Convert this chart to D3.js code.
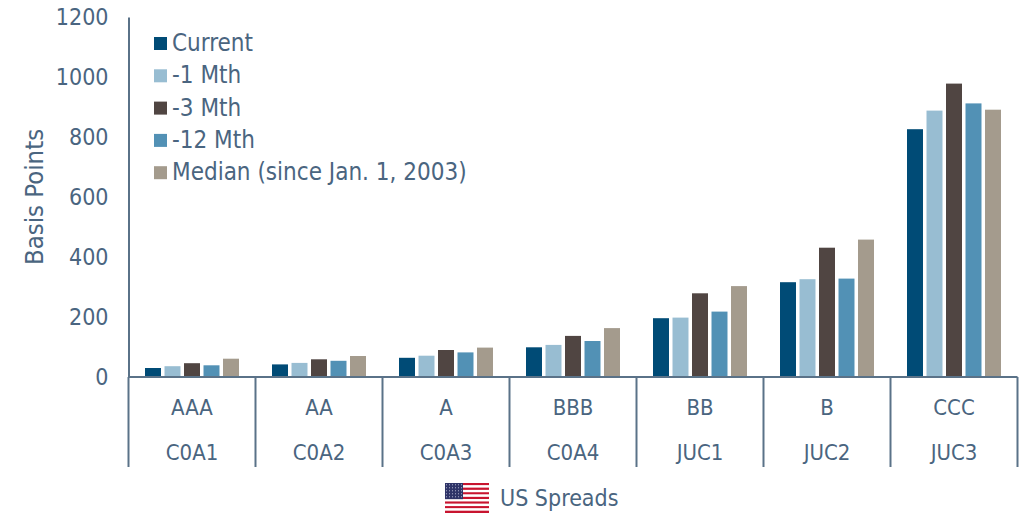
<!DOCTYPE html>
<html>
<head>
<meta charset="utf-8">
<script src="https://cdn.jsdelivr.net/npm/d3@7"></script>
<style>
body { margin: 0; background: #fff; }
text { font-family: "DejaVu Sans", sans-serif; font-stretch: condensed; fill: #4a6580; }
</style>
</head>
<body>
<svg id="chart" width="1020" height="514"></svg>
<script>
const ratings = ["AAA", "AA", "A", "BBB", "BB", "B", "CCC"];
const indexCodes = ["C0A1", "C0A2", "C0A3", "C0A4", "JUC1", "JUC2", "JUC3"];
const seriesNames = ["Current", "-1 Mth", "-3 Mth", "-12 Mth", "Median (since Jan. 1, 2003)"];
const current = [30, 42, 64, 99, 196, 316, 826];
const oneMonth = [36, 47, 71, 107, 198, 326, 888];
const threeMonth = [46, 59, 90, 137, 279, 431, 978];
const twelveMonth = [39, 54, 82, 120, 218, 328, 912];
const median = [61, 70, 98, 163, 303, 458, 891];
const yTicks = [0, 200, 400, 600, 800, 1000, 1200];
const colors = ["#004b76", "#98bdd2", "#504542", "#5291b5", "#a49b8d"];

const allSeries = [current, oneMonth, threeMonth, twelveMonth, median];
const axisColor = "#5a7288";

const svg = d3.select("#chart");

const left = 128.5, right = 1017.5, top0 = 17, bottom = 377;

const x0 = d3.scaleBand().domain(ratings).range([left, right]);
const x1 = d3.scaleBand().domain(seriesNames)
    .range([16.5, 110.5]).paddingInner(0.18).paddingOuter(0);
const y = d3.scaleLinear().domain([0, 1200]).range([bottom, top0]);

// bars
seriesNames.forEach(function(name, s) {
    svg.append("g").selectAll("rect")
        .data(allSeries[s])
        .join("rect")
        .attr("x", (d, i) => x0(ratings[i]) + x1(name))
        .attr("y", d => y(d))
        .attr("width", x1.bandwidth())
        .attr("height", d => bottom - y(d))
        .attr("fill", colors[s]);
});

// y axis
const yAxis = svg.append("g")
    .attr("transform", "translate(" + left + ",0)")
    .call(d3.axisLeft(y).tickValues(yTicks).tickSize(0).tickPadding(20).tickFormat(d3.format("d")));
yAxis.select(".domain").attr("stroke", axisColor).attr("stroke-width", 2);
yAxis.selectAll("text").style("font-size", "23px").attr("fill", "#4a6580");

svg.append("text")
    .attr("transform", "translate(43,197) rotate(-90)")
    .attr("text-anchor", "middle")
    .style("font-size", "25.5px")
    .text("Basis Points");

// x axis with two label rows
svg.append("line")
    .attr("x1", left).attr("x2", right)
    .attr("y1", bottom).attr("y2", bottom)
    .attr("stroke", axisColor).attr("stroke-width", 2);

const dividers = ratings.map(d => x0(d)).concat([right]);
svg.append("g").selectAll("line")
    .data(dividers)
    .join("line")
    .attr("x1", d => d).attr("x2", d => d)
    .attr("y1", bottom).attr("y2", 467)
    .attr("stroke", axisColor).attr("stroke-width", 2);

svg.append("g").selectAll("text")
    .data(ratings)
    .join("text")
    .attr("x", d => x0(d) + x0.bandwidth() / 2)
    .attr("y", 415)
    .attr("text-anchor", "middle")
    .style("font-size", "22px")
    .text(d => d);

svg.append("g").selectAll("text")
    .data(indexCodes)
    .join("text")
    .attr("x", (d, i) => x0(ratings[i]) + x0.bandwidth() / 2)
    .attr("y", 460)
    .attr("text-anchor", "middle")
    .style("font-size", "22px")
    .text(d => d);

// legend
const legend = svg.append("g").selectAll("g")
    .data(seriesNames)
    .join("g")
    .attr("transform", (d, i) => "translate(154," + (37 + i * 32.3) + ")");
legend.append("rect")
    .attr("width", 13).attr("height", 13)
    .attr("fill", (d, i) => colors[i]);
legend.append("text")
    .attr("x", 18).attr("y", 14)
    .style("font-size", "24px")
    .text(d => d);

// flag and caption
const flag = svg.append("g").attr("transform", "translate(445,483)");
const stripeH = 30 / 13;
flag.selectAll(".stripe")
    .data(d3.range(13))
    .join("rect")
    .attr("y", d => d * stripeH)
    .attr("width", 44)
    .attr("height", stripeH)
    .attr("fill", d => d % 2 ? "#ffffff" : "#c8142f");
flag.append("rect")
    .attr("width", 18).attr("height", stripeH * 7)
    .attr("fill", "#2f3468");
flag.selectAll(".star")
    .data(d3.cross(d3.range(6), d3.range(5)))
    .join("circle")
    .attr("cx", d => 1.5 + d[0] * 3)
    .attr("cy", d => 1.7 + d[1] * 3)
    .attr("r", 0.55)
    .attr("fill", "#c9cbe0");

svg.append("text")
    .attr("x", 500).attr("y", 506)
    .style("font-size", "23px")
    .text("US Spreads");
</script>
</body>
</html>
